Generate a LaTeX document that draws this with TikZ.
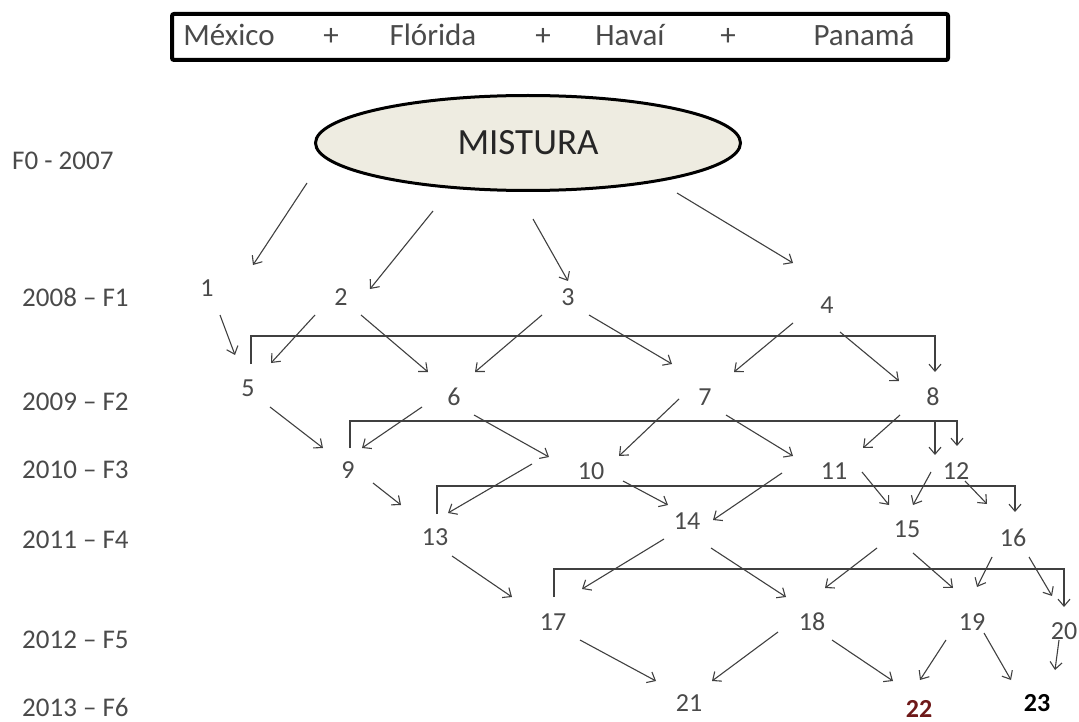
\documentclass[tikz,border=0pt]{standalone}
\usepackage{fontspec}
\setmainfont{Carlito}
\usetikzlibrary{shapes.geometric,arrows.meta}
\definecolor{ink}{HTML}{404040}
\definecolor{txt}{HTML}{4A4A4A}
\definecolor{pale}{HTML}{EEECE1}
\definecolor{deepred}{RGB}{110,25,25}

\begin{document}
\begin{tikzpicture}[x=1pt,y=-1pt,
  num/.style={inner sep=0pt, text=txt, font=\fontsize{26}{30}\selectfont},
  yr/.style={anchor=west, inner sep=0pt, text=txt, font=\fontsize{27}{30}\selectfont},
  src/.style={anchor=base, inner sep=0pt, text=txt, font=\fontsize{31}{34}\selectfont},
  arr/.style={draw=ink, line width=1.1pt, -{Straight Barb[length=7pt,width=12pt,line width=1.1pt]}},
  bar/.style={draw=ink, line width=1.2pt, -{Straight Barb[length=7pt,width=12pt,line width=1.1pt]}}
]
\useasboundingbox (0,0) rectangle (1079,722);

% origin populations
\node[draw, line width=4pt, rounded corners=2pt, minimum width=776pt, minimum height=46pt, inner sep=0pt] (box) at (560,37) {};
\node[src] (mex) at (229,46) {México};
\node[src] (p1) at (331,46) {+};
\node[src] (flo) at (433,46) {Flórida};
\node[src] (p2) at (543,46) {+};
\node[src] (hav) at (630,46) {Havaí};
\node[src] (p3) at (728,46) {+};
\node[src] (pan) at (864,46) {Panamá};

% founding mixture
\node[ellipse, draw, line width=3pt, fill=pale, minimum width=425pt, minimum height=95pt, inner sep=0pt,
      text=black!85, font=\fontsize{37}{40}\selectfont] (mix) at (528,143) {MISTURA};

% generation labels
\node[yr] (g0) at (12,161) {F0 - 2007};
\node[yr] (g1) at (22,297) {2008 – F1};
\node[yr] (g2) at (22,402) {2009 – F2};
\node[yr] (g3) at (22,470) {2010 – F3};
\node[yr] (g4) at (22,540) {2011 – F4};
\node[yr] (g5) at (22,640) {2012 – F5};
\node[yr] (g6) at (22,707) {2013 – F6};

% families
\node[num] (n1) at (207,288) {1};
\node[num] (n2) at (341,297) {2};
\node[num] (n3) at (568,297) {3};
\node[num] (n4) at (827,305) {4};
\node[num] (n5) at (248,388) {5};
\node[num] (n6) at (454,397) {6};
\node[num] (n7) at (705,397) {7};
\node[num] (n8) at (933,397) {8};
\node[num] (n9) at (348,470) {9};
\node[num] (n10) at (591,471) {10};
\node[num] (n11) at (834,471) {11};
\node[num] (n12) at (956,471) {12};
\node[num] (n13) at (435,537) {13};
\node[num] (n14) at (687,521) {14};
\node[num] (n15) at (907,529) {15};
\node[num] (n16) at (1013,538) {16};
\node[num] (n17) at (553,622) {17};
\node[num] (n18) at (812,622) {18};
\node[num] (n19) at (972,622) {19};
\node[num] (n20) at (1064,631) {20};
\node[num] (n21) at (689,703) {21};
\node[num, text=deepred, font=\fontsize{26}{30}\selectfont\bfseries] (n22) at (919,709) {22};
\node[num, text=black, font=\fontsize{26}{30}\selectfont\bfseries] (n23) at (1037,703) {23};

% mixture to F1
\draw[arr] ([shift={(-221,40)}]mix.center) -- ([shift={(46,-23)}]n1.center);
\draw[arr] ([shift={(-95,68)}]mix.center) -- ([shift={(29,-8)}]n2.center);
\draw[arr] ([shift={(5,76)}]mix.center) -- ([shift={(0,-16)}]n3.center);
\draw[arr] ([shift={(149,50)}]mix.center) -- ([shift={(-34,-42)}]n4.center);

% F1 to F2
\draw[arr] ([shift={(13,27)}]n1.center) -- ([shift={(-13,-33)}]n5.center);
\draw[arr] ([shift={(-26,18)}]n2.center) -- ([shift={(23,-25)}]n5.center);
\draw[arr] ([shift={(20,18)}]n2.center) -- ([shift={(-26,-25)}]n6.center);
\draw[arr] ([shift={(-26,18)}]n3.center) -- ([shift={(21,-25)}]n6.center);
\draw[arr] ([shift={(21,18)}]n3.center) -- ([shift={(-33,-33)}]n7.center);
\draw[arr] ([shift={(-34,18)}]n4.center) -- ([shift={(29,-25)}]n7.center);
\draw[arr] ([shift={(13,27)}]n4.center) -- ([shift={(-34,-16)}]n8.center);
\draw[bar] ([shift={(3,-24)}]n5.center) -- ++(0,-28) -| ([shift={(2,-25)}]n8.center);

% F2 to F3
\draw[arr] ([shift={(22,19)}]n5.center) -- ([shift={(-25,-22)}]n9.center);
\draw[arr] ([shift={(-32,10)}]n6.center) -- ([shift={(14,-22)}]n9.center);
\draw[arr] ([shift={(20,18)}]n6.center) -- ([shift={(-42,-14)}]n10.center);
\draw[arr] ([shift={(-26,2)}]n7.center) -- ([shift={(28,-15)}]n10.center);
\draw[arr] ([shift={(21,18)}]n7.center) -- ([shift={(-41,-15)}]n11.center);
\draw[arr] ([shift={(-33,18)}]n8.center) -- ([shift={(29,-23)}]n11.center);
\draw[arr] ([shift={(2,24)}]n8.center) -- ([shift={(-21,-16)}]n12.center);
\draw[bar] ([shift={(2,-22)}]n9.center) -- ++(0,-27) -| ([shift={(1,-25)}]n12.center);

% F3 to F4
\draw[arr] ([shift={(25,13)}]n9.center) -- ([shift={(-34,-32)}]n13.center);
\draw[arr] ([shift={(-59,-7)}]n10.center) -- ([shift={(13,-24)}]n13.center);
\draw[arr] ([shift={(32,10)}]n10.center) -- ([shift={(-19,-16)}]n14.center);
\draw[arr] ([shift={(-52,2)}]n11.center) -- ([shift={(26,-1)}]n14.center);
\draw[arr] ([shift={(28,1)}]n11.center) -- ([shift={(-18,-24)}]n15.center);
\draw[arr] ([shift={(-25,1)}]n12.center) -- ([shift={(6,-24)}]n15.center);
\draw[arr] ([shift={(9,10)}]n12.center) -- ([shift={(-26,-34)}]n16.center);
\draw[bar] ([shift={(2,-23)}]n13.center) -- ++(0,-28) -| ([shift={(2,-26)}]n16.center);

% F4 to F5
\draw[arr] ([shift={(17,19)}]n13.center) -- ([shift={(-41,-25)}]n17.center);
\draw[arr] ([shift={(-23,18)}]n14.center) -- ([shift={(29,-33)}]n17.center);
\draw[arr] ([shift={(24,27)}]n14.center) -- ([shift={(-26,-25)}]n18.center);
\draw[arr] ([shift={(-30,19)}]n15.center) -- ([shift={(13,-34)}]n18.center);
\draw[arr] ([shift={(6,24)}]n15.center) -- ([shift={(-19,-34)}]n19.center);
\draw[arr] ([shift={(-21,19)}]n16.center) -- ([shift={(5,-35)}]n19.center);
\draw[arr] ([shift={(16,19)}]n16.center) -- ([shift={(-12,-35)}]n20.center);
\draw[bar] ([shift={(1,-25)}]n17.center) -- ++(0,-28) -| ([shift={(0,-24)}]n20.center);

% F5 to F6
\draw[arr] ([shift={(27,18)}]n17.center) -- ([shift={(-33,-22)}]n21.center);
\draw[arr] ([shift={(-34,10)}]n18.center) -- ([shift={(23,-22)}]n21.center);
\draw[arr] ([shift={(20,18)}]n18.center) -- ([shift={(-26,-28)}]n22.center);
\draw[arr] ([shift={(-26,18)}]n19.center) -- ([shift={(1,-29)}]n22.center);
\draw[arr] ([shift={(12,11)}]n19.center) -- ([shift={(-26,-23)}]n23.center);
\draw[arr] ([shift={(-5,9)}]n20.center) -- ([shift={(18,-33)}]n23.center);
\end{tikzpicture}
\end{document}
